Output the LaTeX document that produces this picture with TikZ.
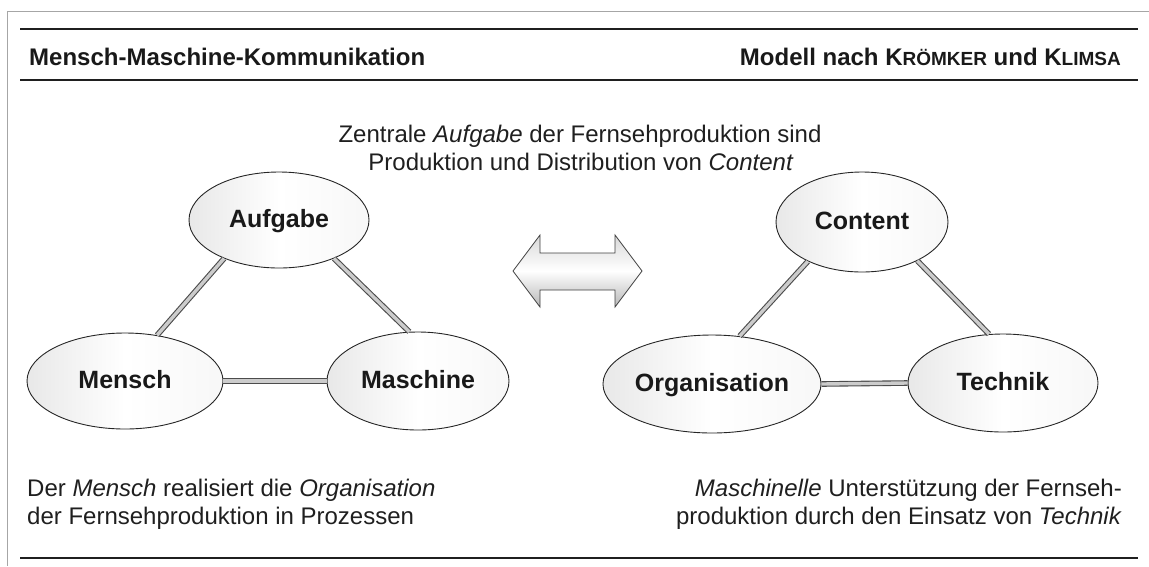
\documentclass[tikz,border=0pt]{standalone}
\usepackage{fontspec}
\setmainfont{Liberation Sans}
\usetikzlibrary{shapes.geometric}
\newcommand{\capsmall}[1]{{\fontsize{19}{22}\selectfont #1}}
\begin{document}
\begin{tikzpicture}[x=1pt,y=-1pt,
  oval/.style={ellipse, draw=black!85, line width=0.9pt, inner sep=0pt,
    left color=black!9, right color=black!3, middle color=white,
    font=\fontsize{25}{30}\selectfont\bfseries, text=black!90,
    text height=18pt, text depth=3pt},
  bar/.style={draw=black!70, line width=1.1pt, double=black!20, double distance=3.4pt},
  rulebar/.style={line width=2.8pt, draw=black!88},
  body/.style={inner sep=0pt, font=\fontsize{24}{29}\selectfont, text=black!88},
  head/.style={inner sep=0pt, font=\fontsize{24}{29}\selectfont\bfseries, text=black!90}]

\useasboundingbox (0,0) rectangle (1149,566);

% outer frame
\draw[black!35, line width=1pt] (1149,11) -- (7,11) -- (7,566);

% header and footer rules
\draw[rulebar] (20,29) -- (1138,29);
\draw[rulebar] (20,80) -- (1138,80);
\draw[rulebar] (20,558) -- (1138,558);

% header
\node[head, anchor=base west] (title) at (29,65) {Mensch-Maschine-Kommunikation};
\node[head, anchor=base east] (model) at (1121,65)
  {Modell nach K\capsmall{RÖMKER} und K\capsmall{LIMSA}};

% centre caption
\node[body, anchor=base] (cap1) at (580,142) {Zentrale \textit{Aufgabe} der Fernsehproduktion sind};
\node[body, anchor=base] (cap2) at (581,170) {Produktion und Distribution von \textit{Content}};

% left triangle
\node[oval, minimum width=180pt, minimum height=96pt] (aufgabe) at (279,220) {Aufgabe};
\node[oval, minimum width=196pt, minimum height=96pt] (mensch) at (125,381) {Mensch};
\node[oval, minimum width=182pt, minimum height=98pt] (maschine) at (418,381) {Maschine};

\draw[bar] (aufgabe.215) -- (mensch.55);
\draw[bar] (aufgabe.325) -- (maschine.100);
\draw[bar] (mensch.east) -- (maschine.west);

% right triangle
\node[oval, minimum width=172pt, minimum height=100pt] (content) at (862,222) {Content};
\node[oval, minimum width=184pt, minimum height=98pt] (organisation) at (712,384) {Organisation};
\node[oval, minimum width=190pt, minimum height=98pt] (technik) at (1003,383) {Technik};

\draw[bar] (content.216) -- (organisation.60);
\draw[bar] (content.325) -- (technik.106);
\draw[bar] (organisation.east) -- (technik.west);

% double-headed block arrow between the two models
\draw[black!75, line width=0.8pt, top color=black!15, bottom color=black!28, middle color=white]
  (513,271) -- (540,235) -- (540,253) -- (615,253) -- (615,235) -- (642,271)
  -- (615,307) -- (615,290) -- (540,290) -- (540,307) -- cycle;

% footer captions
\node[body, anchor=base west] (left1) at (27,496) {Der \textit{Mensch} realisiert die \textit{Organisation}};
\node[body, anchor=base west] (left2) at (27,524) {der Fernsehproduktion in Prozessen};
\node[body, anchor=base east] (right1) at (1122,496) {\textit{Maschinelle} Unterstützung der Fernseh-};
\node[body, anchor=base east] (right2) at (1122,524) {produktion durch den Einsatz von \textit{Technik}};

\end{tikzpicture}
\end{document}
